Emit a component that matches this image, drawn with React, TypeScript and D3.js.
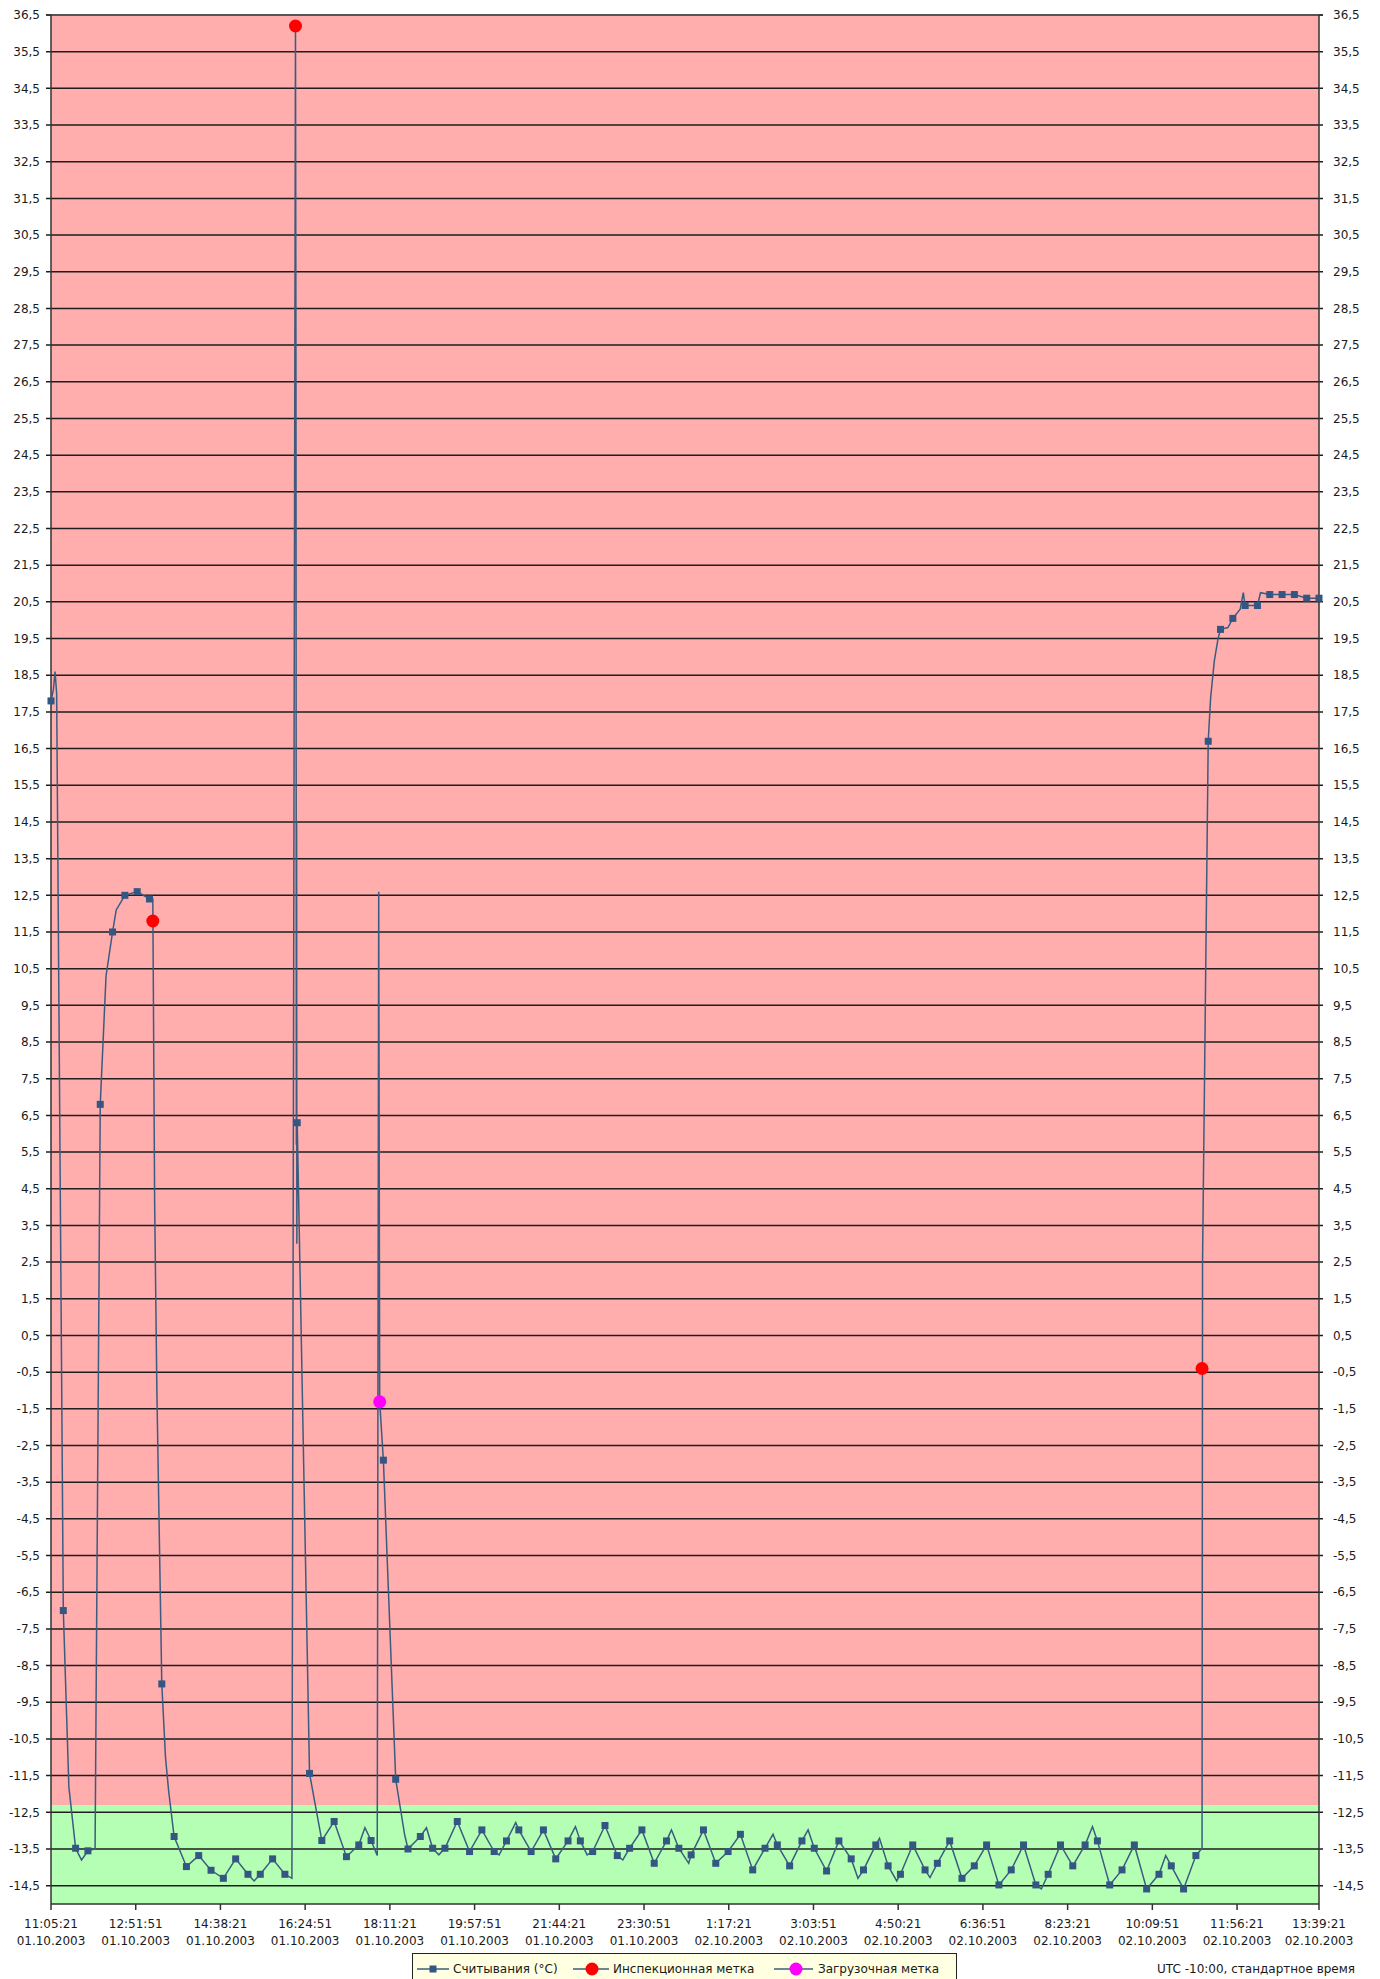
import * as d3 from 'd3';

// logger readings, one every ~15.5 min from first to last reading
const firstReading = '11:05:21 01.10.2003';
const lastReading = '13:39:21 02.10.2003';
const readings = [
  17.8, -7.0, -13.48, -13.55, 6.8, 11.5, 12.5, 12.6, 12.4, -9.0,
  -13.16, -13.98, -13.68, -14.08, -14.3, -13.77, -14.19, -14.19, -13.77, -14.19,
  6.3, -11.44, -13.27, -12.75, -13.71, -13.39, -13.27, -2.9, -11.6, -13.5,
  -13.16, -13.48, -13.48, -12.75, -13.57, -12.98, -13.57, -13.28, -12.98, -13.57,
  -12.98, -13.77, -13.28, -13.28, -13.57, -12.86, -13.68, -13.48, -12.98, -13.89,
  -13.28, -13.48, -13.66, -12.98, -13.89, -13.57, -13.1, -14.07, -13.48, -13.39,
  -13.96, -13.28, -13.48, -14.1, -13.28, -13.77, -14.07, -13.39, -13.96, -14.19,
  -13.39, -14.07, -13.89, -13.28, -14.3, -13.96, -13.39, -14.48, -14.07, -13.39,
  -14.48, -14.19, -13.39, -13.96, -13.39, -13.28, -14.48, -14.07, -13.39, -14.59,
  -14.19, -13.96, -14.59, -13.68, 16.7, 19.75, 20.05, 20.4, 20.4, 20.7,
  20.7, 20.7, 20.6, 20.6,
];

// unmarked points of the line, position given as fractional reading number
const lineExtras = [
  [0.19, 18.1], [0.33, 18.6], [0.46, 18.0], [1.45, -11.8], [2.48, -13.8],
  [3.58, -13.5], [4.47, 10.3], [5.3, 12.1], [8.27, 12.4], [8.42, 4.1], [8.6, -1.0],
  [9.3, -11.0], [9.55, -11.9], [16.5, -14.37], [19.57, -14.3], [19.86, 36.2],
  [19.9, 26.5], [19.93, 5.7], [19.95, 14.5], [19.97, 3.0],
  [25.5, -12.92], [26.5, -13.68], [26.62, 12.6], [26.7, -1.31], [28.73, -13.12],
  [30.5, -12.92], [31.5, -13.66], [36.4, -13.66], [37.75, -12.78], [42.6, -12.89],
  [43.55, -13.66], [46.45, -13.8], [50.4, -12.98], [51.8, -13.89], [58.65, -13.1],
  [61.5, -12.98], [65.55, -14.3], [67.3, -13.21], [68.7, -14.37], [71.4, -14.28],
  [80.45, -14.59], [84.6, -12.89], [90.55, -13.68], [93.5, -13.48], [93.54, 2.5],
  [94.2, 17.9], [94.5, 18.9], [94.8, 19.5], [95.6, 19.8], [96.6, 20.3],
  [96.85, 20.75], [98.25, 20.75],
];

const inspectionMarks = [[8.27, 11.8], [19.86, 36.2], [93.5, -0.4]];
const loadMarks = [[26.7, -1.31]];

const xTicks = [
  '11:05:21 01.10.2003', '12:51:51 01.10.2003', '14:38:21 01.10.2003', '16:24:51 01.10.2003',
  '18:11:21 01.10.2003', '19:57:51 01.10.2003', '21:44:21 01.10.2003', '23:30:51 01.10.2003',
  '1:17:21 02.10.2003', '3:03:51 02.10.2003', '4:50:21 02.10.2003', '6:36:51 02.10.2003',
  '8:23:21 02.10.2003', '10:09:51 02.10.2003', '11:56:21 02.10.2003', '13:39:21 02.10.2003',
];
const yMin = -15;
const yMax = 36.5;
const okLimit = -12.3; // green zone below this

const seriesNames = ['Считывания (°C)', 'Инспекционная метка', 'Загрузочная метка'];
const tzNote = 'UTC -10:00, стандартное время';

const parse = d3.timeParse('%H:%M:%S %d.%m.%Y');
const fmt = d3.formatLocale({ decimal: ',', thousands: ' ', grouping: [3], currency: ['', ''], minus: '-' }).format('.1f');

const App = () => {
  const width = 1380;
  const height = 1979;
  const left = 51;
  const right = 1319;
  const top = 15;
  const bottom = 1904;

  const t0 = parse(firstReading);
  const t1 = parse(lastReading);
  const step = (t1 - t0) / (readings.length - 1);
  const timeAt = (i) => new Date(+t0 + i * step);

  const x = d3.scaleTime().domain([t0, t1]).range([left, right]);
  const y = d3.scaleLinear().domain([yMin, yMax]).range([bottom, top]);

  const pts = readings.map((v, i) => [i, v]).concat(lineExtras).sort((a, b) => a[0] - b[0]);
  const line = d3.line().x((d) => x(timeAt(d[0]))).y((d) => y(d[1]));

  const yTicks = d3.range(-14.5, 36.6, 1);
  const font = '"DejaVu Sans", sans-serif';
  const textColor = '#1a1a1a';
  const lineColor = '#3b5c80';
  const markColor = '#335782';

  return (
    <svg width={width} height={height} style={{ position: 'absolute', left: 0, top: 0, background: '#fff' }}>
      <rect x={left} y={top} width={right - left} height={bottom - top} fill="#ffadad" />
      <rect x={left} y={y(okLimit)} width={right - left} height={bottom - y(okLimit)} fill="#b5ffb5" />

      {yTicks.map((t) => (
        <g key={t}>
          <line x1={left - 5} x2={right + 4} y1={y(t)} y2={y(t)} stroke="#1e1e1e" strokeWidth={1.5} />
          <text x={40} y={y(t)} dy="0.35em" textAnchor="end" fontFamily={font} fontSize={12} fill={textColor}>{fmt(t)}</text>
          <text x={1333} y={y(t)} dy="0.35em" fontFamily={font} fontSize={12} fill={textColor}>{fmt(t)}</text>
        </g>
      ))}
      <line x1={left} x2={right} y1={top} y2={top} stroke="#555" strokeWidth={2} />
      <line x1={left - 5} x2={left} y1={top} y2={top} stroke="#333" strokeWidth={1.5} />
      <line x1={right} x2={right + 4} y1={top} y2={top} stroke="#333" strokeWidth={1.5} />
      <line x1={left} x2={left} y1={top} y2={bottom} stroke="#333" strokeWidth={1.5} />
      <line x1={right} x2={right} y1={top} y2={bottom} stroke="#333" strokeWidth={1.5} />
      <line x1={left} x2={right} y1={bottom} y2={bottom} stroke="#333" strokeWidth={1.5} />

      {xTicks.map((s) => {
        const tx = x(parse(s));
        const [tm, dt] = s.split(' ');
        return (
          <g key={s} transform={`translate(${tx},0)`}>
            <line y1={bottom} y2={bottom + 6} stroke="#333" strokeWidth={1.5} />
            <text y={bottom + 24} textAnchor="middle" fontFamily={font} fontSize={12} fill={textColor}>{tm}</text>
            <text y={bottom + 41} textAnchor="middle" fontFamily={font} fontSize={12} fill={textColor}>{dt}</text>
          </g>
        );
      })}

      <path d={line(pts)} fill="none" stroke={lineColor} strokeWidth={1.5} />
      {readings.map((v, i) => (
        <rect key={i} x={x(timeAt(i)) - 3.5} y={y(v) - 3.5} width={7} height={7} fill={markColor} />
      ))}
      {inspectionMarks.map((d, i) => (
        <circle key={i} cx={x(timeAt(d[0]))} cy={y(d[1])} r={6.5} fill="#ff0000" />
      ))}
      {loadMarks.map((d, i) => (
        <circle key={i} cx={x(timeAt(d[0]))} cy={y(d[1])} r={6.5} fill="#ff00ff" />
      ))}

      <g fontFamily={font} fontSize={12} fill={textColor}>
        <rect x={412.5} y={1953.5} width={544} height={32} fill="#ffffe1" stroke="#222" />
        <line x1={417} x2={449} y1={1969} y2={1969} stroke={lineColor} strokeWidth={1.5} />
        <rect x={429.5} y={1965.5} width={7} height={7} fill={markColor} />
        <text x={453} y={1973}>{seriesNames[0]}</text>
        <line x1={573} x2={609} y1={1969} y2={1969} stroke={lineColor} strokeWidth={1.5} />
        <circle cx={592} cy={1969} r={6.5} fill="#ff0000" />
        <text x={613} y={1973}>{seriesNames[1]}</text>
        <line x1={774} x2={813} y1={1969} y2={1969} stroke={lineColor} strokeWidth={1.5} />
        <circle cx={796} cy={1969} r={6.5} fill="#ff00ff" />
        <text x={818} y={1973}>{seriesNames[2]}</text>
        <text x={1355} y={1973} textAnchor="end">{tzNote}</text>
      </g>
    </svg>
  );
};

export default App;
